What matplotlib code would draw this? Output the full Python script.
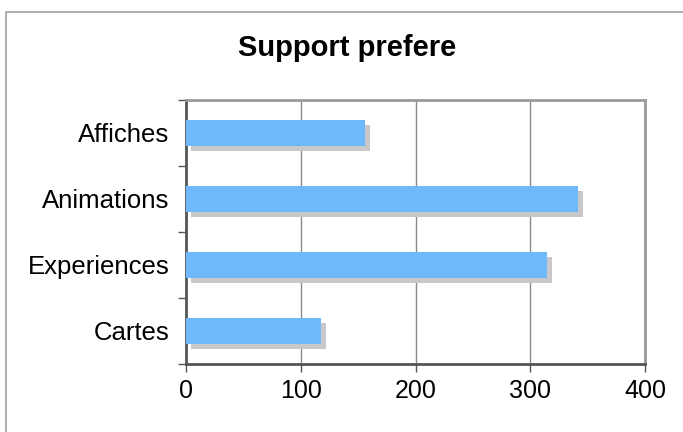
import matplotlib
matplotlib.use("Agg")
import matplotlib.pyplot as plt
import matplotlib.transforms as mtransforms
from matplotlib.patches import Rectangle
import numpy as np

categories = ["Affiches", "Animations", "Experiences", "Cartes"]
values = [156, 342, 315, 118]
x_ticks = [0, 100, 200, 300, 400]

plt.rcParams["font.family"] = ["Liberation Sans", "DejaVu Sans"]

fig = plt.figure(figsize=(6.83, 4.32), dpi=100)
fig.patch.set_facecolor("white")

# outer frame of the chart
fig.patches.append(Rectangle((6 / 683, -0.2), 1.5, (1 - 12 / 432) + 0.2,
                             transform=fig.transFigure, fill=False,
                             edgecolor="#a0a0a0", linewidth=1.2, zorder=0))

ax = fig.add_axes([186 / 683, 1 - 364 / 432, (645 - 186) / 683, (364 - 100) / 432])

y = np.arange(len(categories))[::-1]
bar_h = 0.38

# drop shadow behind each bar
shadow_tr = ax.transData + mtransforms.ScaledTranslation(4.5 / 100, -5 / 100, fig.dpi_scale_trans)
ax.barh(y, values, height=bar_h, color="#c8c8c8", transform=shadow_tr, zorder=2)
ax.barh(y, values, height=bar_h, color="#6eb9fb", zorder=3)

ax.set_xlim(0, 400)
ax.set_ylim(-0.5, len(categories) - 0.5)
ax.set_xticks(x_ticks)
ax.set_xticklabels([str(v) for v in x_ticks])
ax.set_yticks(y)
ax.set_yticklabels(categories)
ax.set_yticks(np.arange(-0.5, len(categories), 1.0), minor=True)

ax.tick_params(axis="y", which="major", length=0, pad=12, labelsize=18.5)
ax.tick_params(axis="y", which="minor", length=6, width=1, color="#555555")
ax.tick_params(axis="x", which="major", length=6, width=1, color="#555555",
               pad=5, labelsize=18)

ax.grid(axis="x", color="#8a8a8a", linewidth=1.0, zorder=1)
ax.set_axisbelow(True)

for side in ("left", "bottom"):
    ax.spines[side].set_color("#555555")
    ax.spines[side].set_linewidth(2)
for side in ("top", "right"):
    ax.spines[side].set_color("#9a9a9a")
    ax.spines[side].set_linewidth(2)

fig.text(347.5 / 683, 1 - 48 / 432, "Support prefere", ha="center", va="center",
         fontsize=21, fontweight="bold")

fig.savefig("out.png", dpi=100)
